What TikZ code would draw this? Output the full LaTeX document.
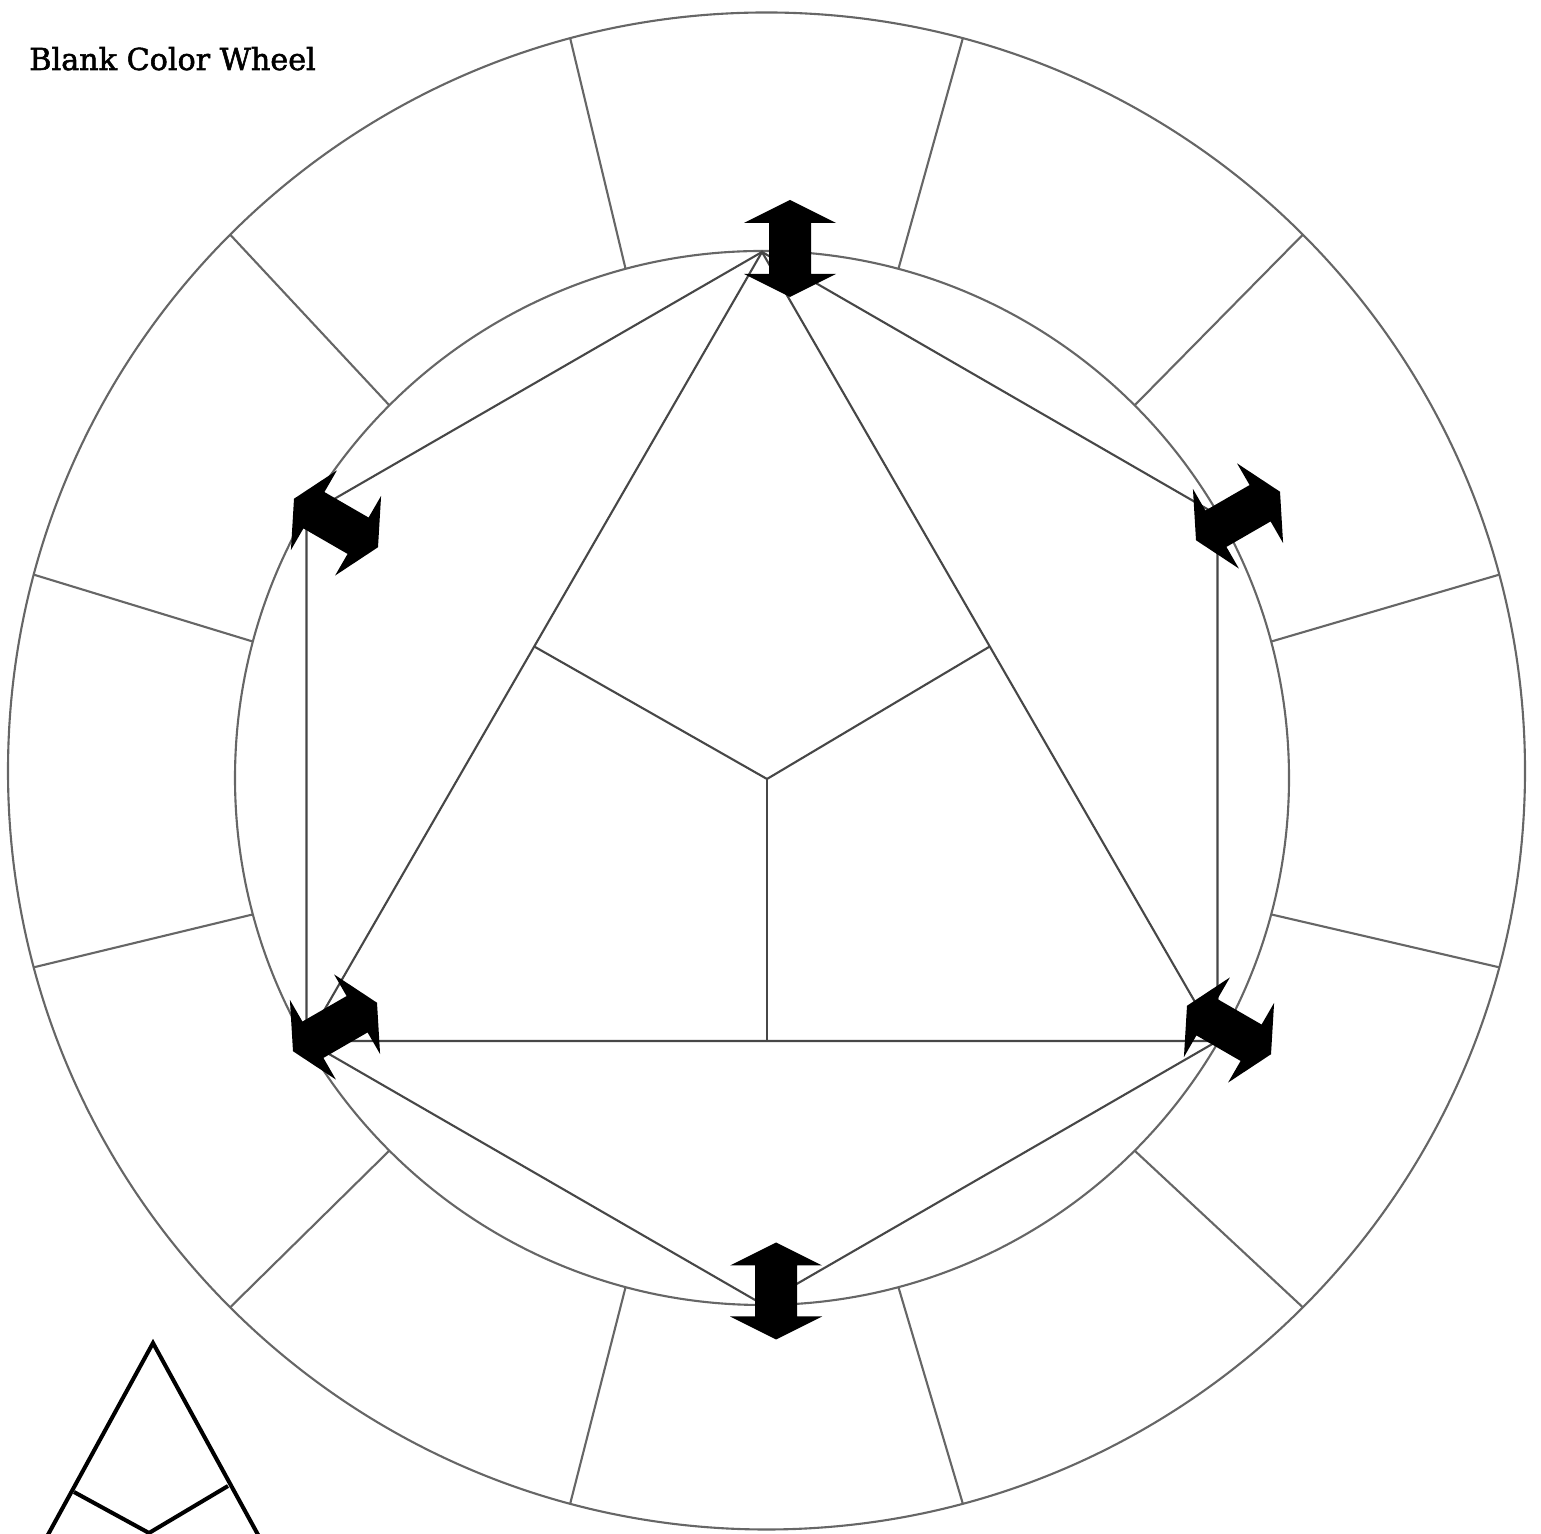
\documentclass[tikz,border=0pt]{standalone}
\usepackage{fontspec}
\setmainfont{DejaVu Serif}
\newfontfamily\titlefont[FakeBold=1.8]{DejaVu Serif}
\usetikzlibrary{calc}
\tikzset{
  ring/.style={draw=black!60, line width=1.2pt},
  guide/.style={draw=black!72, line width=1.2pt},
  sketch/.style={draw=black, line width=2.3pt},
  dblarrow/.pic={
    \fill[black] (0,48.5) -- (46,25.5) -- (21,25.5) -- (21,-25.5) -- (46,-25.5) -- (0,-48.5)
      -- (-46,-25.5) -- (-21,-25.5) -- (-21,25.5) -- (-46,25.5) -- cycle;
  }
}
\begin{document}
\begin{tikzpicture}[x=0.02cm, y=0.02cm]
  \useasboundingbox (0,0) rectangle (1541,1534);
  \node[anchor=base west, inner sep=0pt, font=\titlefont\fontsize{17.2}{20}\selectfont] (title) at (29,1464) {Blank Color Wheel};

  % wheel
  \coordinate (outer) at (766.5,763);
  \coordinate (inner) at (762,756);
  \draw[ring] (outer) circle[radius=758.5];
  \draw[ring] (inner) circle[radius=527];
  \foreach \a in {15,45,...,345}
    \draw[ring] ($(inner)+(\a:527)$) -- ($(outer)+(\a:758.5)$);

  % hexagon and triangle
  \foreach \a/\n in {90/top, 150/upleft, 210/lowleft, 270/bottom, 330/lowright, 30/upright}
    \coordinate (\n) at ($(inner)+(\a:526)$);
  \draw[guide] (top) -- (upleft) -- (lowleft) -- (bottom) -- (lowright) -- (upright) -- cycle;
  \draw[guide] (top) -- (lowleft) -- (lowright) -- cycle;
  \coordinate (mid) at (767,755);
  \draw[guide] (mid) -- ($(top)!0.5!(lowleft)$);
  \draw[guide] (mid) -- ($(top)!0.5!(lowright)$);
  \draw[guide] (mid) -- ($(lowleft)!(mid)!(lowright)$);

  % arrows
  \foreach \x/\y/\r in {790/1285.5/0, 776/243/0, 336/1011/60, 1229/504/60, 1238/1018/-60, 335/507/-60}
    \pic[rotate=\r] at (\x,\y) {dblarrow};

  % small triangle
  \begin{scope}
    \clip (0,0) rectangle (1541,1534);
    \coordinate (apex) at (153,191);
    \coordinate (ymid) at (149,1);
    \draw[sketch] (44,-8) -- (apex) -- (262,-8);
    \draw[sketch] (74,42) -- (ymid) -- (228,48);
  \end{scope}
\end{tikzpicture}
\end{document}
